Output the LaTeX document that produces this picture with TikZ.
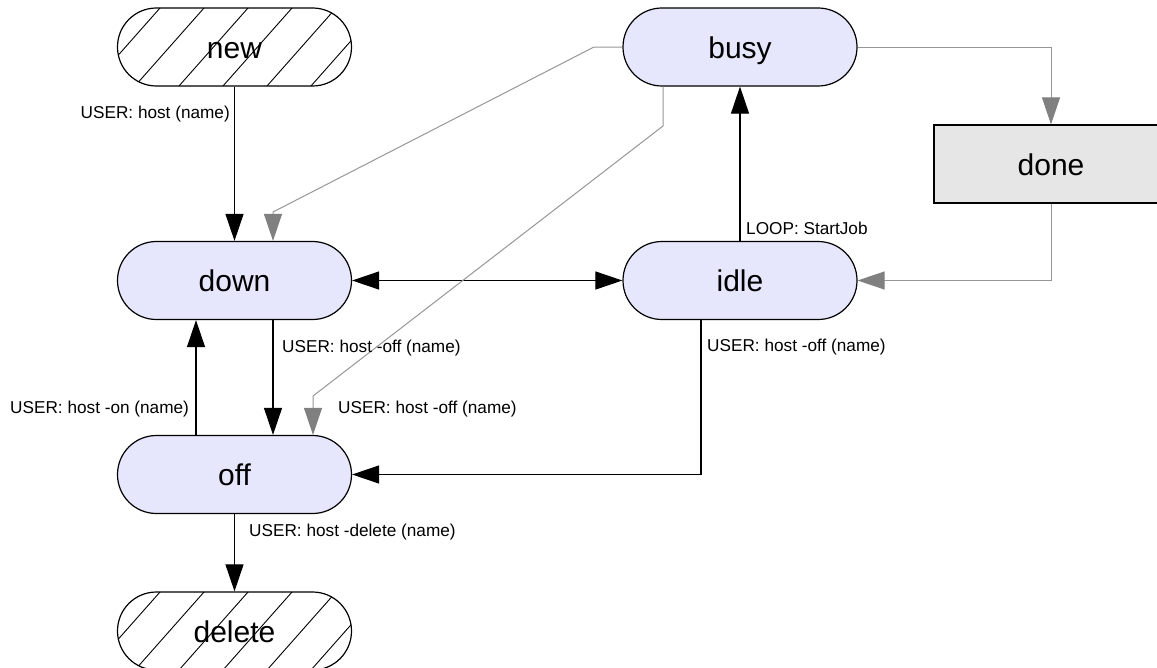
\documentclass[tikz,border=0pt]{standalone}
\usepackage{fontspec}
\setmainfont{Liberation Sans}
\usetikzlibrary{arrows.meta}

\definecolor{statefill}{RGB}{230,230,252}
\definecolor{donefill}{RGB}{230,230,230}
\definecolor{greyline}{RGB}{150,150,150}
\definecolor{greytip}{RGB}{128,128,128}

\tikzset{
  state/.style={draw=black, line width=1.2pt, fill=statefill,
    rounded corners=38.9pt, minimum width=234pt, minimum height=78pt,
    inner sep=0pt, text height=22pt, text depth=0pt,
    font=\fontsize{30}{36}\selectfont},
  terminal/.style={state, fill=white, path picture={
      \foreach \k in {-3,...,6}
        \draw[black, line width=0.9pt, sharp corners]
          ([xshift=17.5pt+\k*44pt]path picture bounding box.south west)
          -- ++(89.7pt,101.4pt);
    }},
  jobbox/.style={state, sharp corners, fill=donefill},
  lbl/.style={font=\fontsize{17.2}{20}\selectfont, inner sep=0pt,
    text height=12.3pt, text depth=0pt},
  flow/.style={draw=black, line width=1.1pt,
    -{Triangle[length=27pt,width=18pt]}},
  bothflow/.style={draw=black, line width=1.1pt,
    {Triangle[length=27pt,width=18pt]}-{Triangle[length=27pt,width=18pt]}},
  auto flow/.style={draw=greyline, line width=1pt,
    -{Triangle[length=27pt,width=18pt,color=greytip,fill=greytip]}},
}

\begin{document}
\begin{tikzpicture}[x=1pt, y=-1pt]
  \useasboundingbox (0,0) rectangle (1157,667);
  \clip (0,0) rectangle (1157,667);

  % states
  \node[terminal] (new)    at (234.5,47)    {new};
  \node[state]    (busy)   at (740,47)      {busy};
  \node[jobbox]   (done)   at (1051,164)    {done};
  \node[state]    (down)   at (234.5,280.5) {down};
  \node[state]    (idle)   at (740,280.5)   {idle};
  \node[state]    (off)    at (234.5,474.5) {off};
  \node[terminal] (delete) at (234.5,631)   {delete};

  % bend points of the automatic transitions
  \coordinate (bd1) at (594,47);
  \coordinate (bd2) at (273,212);
  \coordinate (bo1) at (663,126);
  \coordinate (bo2) at (313,396);

  % user and loop transitions
  \draw[flow] (new) -- (down);
  \draw[bothflow] (down) -- (idle);
  \draw[flow] ([xshift=38.5pt]down.south) -- ([xshift=38.5pt]off.north);
  \draw[flow] ([xshift=-38.5pt]off.north) -- ([xshift=-38.5pt]down.south);
  \draw[flow] ([xshift=-39pt]idle.south) |- (off.east);
  \draw[flow] (idle) -- (busy);
  \draw[flow] (off) -- (delete);

  % automatic transitions
  \draw[auto flow] (busy.west) -- (bd1) -- (bd2) -- ([xshift=38.5pt]down.north);
  \draw[auto flow] (bo1 |- busy.south) -- (bo1) -- (bo2) -- (bo2 |- off.north);
  \draw[auto flow] (busy.east) -| (done.north);
  \draw[auto flow] (done.south) |- (idle.east);

  % transition labels
  \node[lbl, anchor=east] (l-host)   at (230,112) {USER: host (name)};
  \node[lbl, anchor=west] (l-off1)   at (282,346) {USER: host -off (name)};
  \node[lbl, anchor=west] (l-on)     at (10,407)  {USER: host -on (name)};
  \node[lbl, anchor=west] (l-off2)   at (338,407) {USER: host -off (name)};
  \node[lbl, anchor=west] (l-off3)   at (707,345) {USER: host -off (name)};
  \node[lbl, anchor=west] (l-loop)   at (746,228) {LOOP: StartJob};
  \node[lbl, anchor=west] (l-delete) at (249,530) {USER: host -delete (name)};
\end{tikzpicture}
\end{document}
